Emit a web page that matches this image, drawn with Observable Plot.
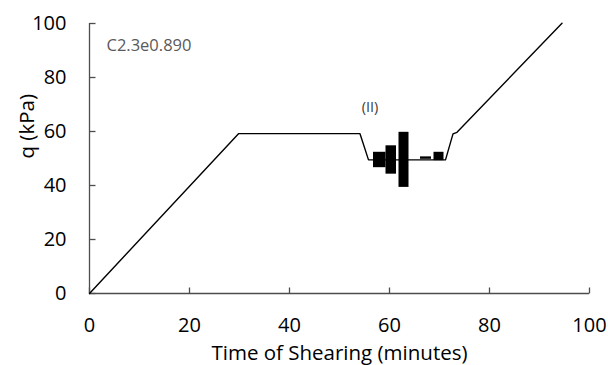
<!DOCTYPE html>
<html>
<head>
<meta charset="utf-8">
<script src="https://cdn.jsdelivr.net/npm/d3@7"></script>
<script src="https://cdn.jsdelivr.net/npm/@observablehq/plot@0.6"></script>
<style>
  body { margin: 0; background: #fff; }
</style>
</head>
<body>
<div id="chart"></div>
<script>
// Deviator stress q against shearing time: monotonic ramp, hold, unload, cyclic stage, reload
const time = [0, 29.8, 54.1, 55.8, 71.2, 72.7, 73.5, 94.5];
const q    = [0, 59.2, 59.2, 49.5, 49.5, 59.1, 59.7, 100.1];

// Envelopes of the cyclic loading packets (time span and q range)
const bandStart = [56.8, 59.3, 61.9, 66.2, 68.9];
const bandEnd   = [59.3, 61.4, 63.9, 68.4, 70.9];
const bandLow   = [46.6, 44.2, 39.3, 49.7, 49.2];
const bandHigh  = [52.3, 54.7, 59.7, 50.6, 52.3];

const xTicks = [0, 20, 40, 60, 80, 100];
const yTicks = [0, 20, 40, 60, 80, 100];

const sampleLabel = "C2.3e0.890";
const stageLabel = "(II)";
const xTitle = "Time of Shearing (minutes)";
const yTitle = "q (kPa)";

const path = time.map((t, i) => ({t, q: q[i]}));
const bands = bandStart.map((s, i) => ({x1: s, x2: bandEnd[i], y1: bandLow[i], y2: bandHigh[i]}));

const axisColor = "#4d4d4d";
const font = "Open Sans";

// Inward tick strokes drawn as custom dot symbols
const tickUp = {draw(context) { context.moveTo(0, 0); context.lineTo(0, -6); }};
const tickRight = {draw(context) { context.moveTo(0, 0); context.lineTo(6, 0); }};

const chart = Plot.plot({
  width: 608,
  height: 365,
  marginLeft: 89,
  marginRight: 19,
  marginTop: 23,
  marginBottom: 72,
  style: {fontFamily: font, background: "#fff", overflow: "visible"},
  x: {domain: [0, 100]},
  y: {domain: [0, 100]},
  marks: [
    Plot.ruleY([0], {stroke: axisColor, strokeWidth: 1.3}),
    Plot.ruleX([0], {stroke: axisColor, strokeWidth: 1.3}),
    Plot.dot(xTicks, {x: d => d, y: 0, symbol: tickUp, fill: "none", stroke: axisColor, strokeWidth: 1.3}),
    Plot.dot(yTicks, {x: 0, y: d => d, symbol: tickRight, fill: "none", stroke: axisColor, strokeWidth: 1.3}),
    Plot.axisX({ticks: xTicks, tickSize: 0, tickPadding: 24, fontSize: 20, fill: "#000", label: null, tickFormat: d => String(d)}),
    Plot.axisY({ticks: yTicks, tickSize: 0, tickPadding: 23, fontSize: 20, fill: "#000", label: null, tickFormat: d => String(d)}),
    Plot.rect(bands, {x1: "x1", x2: "x2", y1: "y1", y2: "y2", fill: "#000"}),
    Plot.line(path, {x: "t", y: "q", stroke: "#000", strokeWidth: 1.4}),
    Plot.text([sampleLabel], {x: 3.4, y: 91.7, text: d => d, textAnchor: "start", fontSize: 16.5, fill: "#595959"}),
    Plot.text([stageLabel], {x: 56.1, y: 68.8, text: d => d, fontSize: 14.5, fill: "#404040"}),
    Plot.text([xTitle], {frameAnchor: "bottom", text: d => d, lineAnchor: "bottom", dy: 66.5, fontSize: 20.5, fill: "#000"}),
    Plot.text([yTitle], {frameAnchor: "left", text: d => d, lineAnchor: "bottom", rotate: -90, dx: -56, fontSize: 20.5, fill: "#000"})
  ]
});

document.getElementById("chart").appendChild(chart);
</script>
</body>
</html>
